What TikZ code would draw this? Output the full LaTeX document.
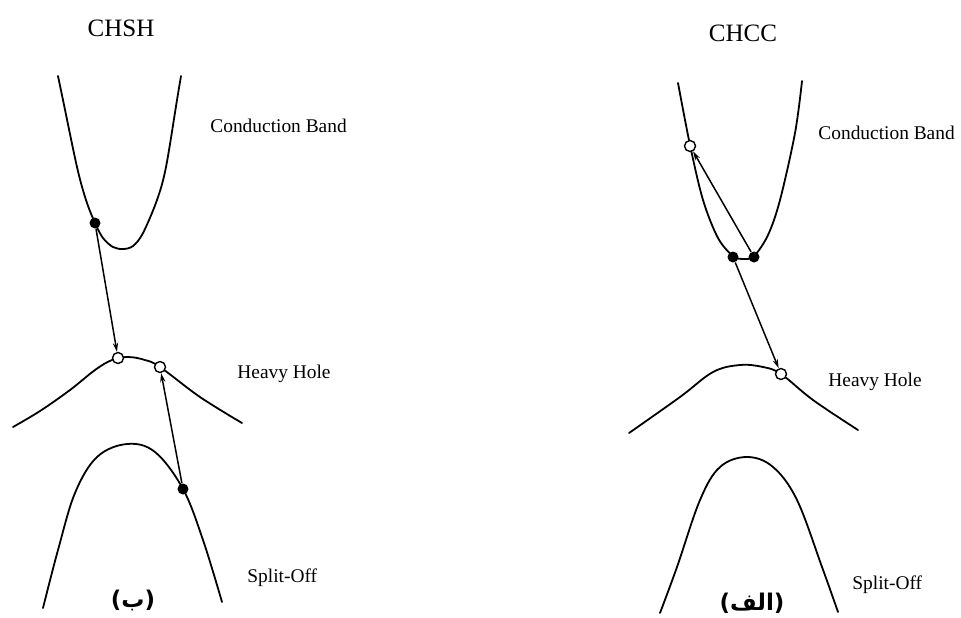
\documentclass[tikz,border=0pt]{standalone}
\usepackage{fontspec}
\setmainfont{Liberation Serif}
\newfontfamily\arabicfont[Script=Arabic]{DejaVu Sans}
\newfontfamily\parenfont{DejaVu Sans}
\TeXXeTstate=1
\usetikzlibrary{arrows.meta}
\begin{document}
\begin{tikzpicture}[x=0.5pt,y=-0.5pt,
  band/.style={line width=0.9pt,line join=round,line cap=round},
  edot/.style={circle,fill=black,inner sep=0pt,minimum size=5.5pt},
  hole/.style={circle,draw=black,fill=white,line width=0.7pt,inner sep=0pt,minimum size=5.5pt},
  arr/.style={line width=0.75pt,-{Stealth[length=4.5pt,width=2.6pt]}},
  lbl/.style={font=\fontsize{9.7pt}{11pt}\selectfont,anchor=west,inner sep=0pt},
  ttl/.style={font=\fontsize{12.5pt}{14pt}\selectfont,inner sep=0pt},
  arlbl/.style={font=\bfseries\fontsize{11.5pt}{13pt}\selectfont,inner sep=0pt}]
\useasboundingbox (0,0) rectangle (961,617);

% ---------- left panel (CHSH) ----------
\node[ttl] (t1) at (121,28) {CHSH};
\draw[band] plot[smooth,tension=0.55] coordinates {(58,76) (63,100) (77,167) (86,200) (95,223) (103,238) (113,247) (123,249) (133,246) (143,233) (157,200) (166,167) (177,100) (181,76)};
\draw[band] plot[smooth,tension=0.6] coordinates {(13,427) (40,411) (70,390) (95,370) (112,360) (128,357) (145,360) (160,367) (200,397) (242,423)};
\draw[band] plot[smooth,tension=0.6] coordinates {(43,608) (58,550) (75,493) (97,457) (127,444) (155,452) (183,489) (203,540) (222,602)};
\node[lbl] (cb1) at (210,126) {Conduction Band};
\node[lbl] (hh1) at (237,374) {Heavy Hole};
\node[lbl] (so1) at (247,578) {Split-Off};
\node[arlbl] (b1) at (133,600) {\parenfont\bfseries(\arabicfont\bfseries\beginR ب\endR\parenfont\bfseries)};
\node[edot] (e1) at (95,223) {};
\node[hole] (h1) at (118,358) {};
\node[hole] (h2) at (160,367) {};
\node[edot] (e2) at (183,489) {};
\draw[arr] (e1) -- (h1);
\draw[arr] (e2) -- (h2);

% ---------- right panel (CHCC) ----------
\node[ttl] (t2) at (743,33) {CHCC};
\draw[band] plot[smooth,tension=0.55] coordinates {(678,83) (690,145) (703,200) (718,238) (733,256) (743,259) (754,256) (768,235) (780,200) (795,133) (802,81)};
\draw[band] plot[smooth,tension=0.6] coordinates {(629,433) (680,397) (713,372) (740,365) (763,367) (781,374) (813,400) (858,430)};
\draw[band] plot[smooth,tension=0.6] coordinates {(660,613) (677,567) (700,500) (720,467) (747,457) (773,467) (797,500) (822,567) (838,612)};
\node[lbl] (cb2) at (818,133) {Conduction Band};
\node[lbl] (hh2) at (828,382) {Heavy Hole};
\node[lbl] (so2) at (852,585) {Split-Off};
\node[arlbl] (b2) at (752,603) {\parenfont\bfseries(\arabicfont\bfseries\beginR الف\endR\parenfont\bfseries)};
\node[hole] (h3) at (690,146) {};
\node[edot] (e3) at (733,257) {};
\node[edot] (e4) at (754,257) {};
\node[hole] (h4) at (781,374) {};
\draw[arr] (e4) -- (h3);
\draw[arr] (e3) -- (h4);
\end{tikzpicture}
\end{document}
